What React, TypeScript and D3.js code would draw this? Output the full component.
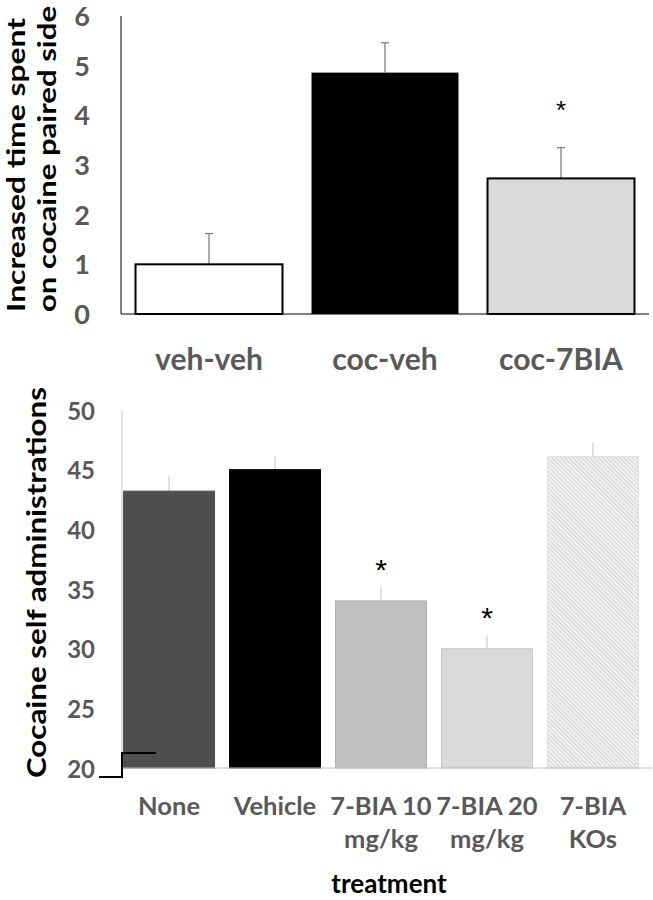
import React from "react";
import * as d3 from "d3";

const topCategories = ["veh-veh", "coc-veh", "coc-7BIA"];
const topValues = [1.0, 4.86, 2.73];
const topErrors = [0.62, 0.6, 0.62];
const topTicks = [0, 1, 2, 3, 4, 5, 6];
const topStars = [false, false, true];

const botCategories = [["None"], ["Vehicle"], ["7-BIA 10", "mg/kg"], ["7-BIA 20", "mg/kg"], ["7-BIA", "KOs"]];
const botValues = [43.2, 45.0, 34.0, 30.0, 46.1];
const botErrors = [1.2, 1.1, 1.15, 1.1, 1.15];
const botTicks = [20, 25, 30, 35, 40, 45, 50];
const botStars = [false, false, true, true, false];

const FONT = "Lato, 'Open Sans', sans-serif";
const GRAY = "#595959";

export default function App() {
  // top chart
  const tx = d3.scaleBand().domain(topCategories).range([121, 649]).paddingInner(0.165).paddingOuter(0.0825);
  const ty = d3.scaleLinear().domain([0, 6]).range([314, 16]);
  const topFill = ["#ffffff", "#000000", "#d9d9d9"];

  // bottom chart
  const bx = d3.scaleBand().domain(botCategories.map((c) => c.join(" "))).range([122, 640]).paddingInner(0.132).paddingOuter(0.01);
  const by = d3.scaleLinear().domain([20, 50]).range([768, 410]);
  const botFill = ["#4f4f4f", "#000000", "#bfbfbf", "#d9d9d9", "url(#hatch)"];
  const botStroke = ["#4f4f4f", "#000000", "#b0b0b0", "#c8c8c8", "#e0e0e0"];

  return (
    <svg width={653} height={900} style={{ position: "absolute", left: 0, top: 0 }} fontFamily={FONT}>
      <defs>
        <pattern id="hatch" patternUnits="userSpaceOnUse" width={3} height={3} patternTransform="rotate(-45)">
          <rect width={3} height={3} fill="#f2f2f2" />
          <line x1={0} y1={0} x2={0} y2={3} stroke="#bdbdbd" strokeWidth={1.2} />
        </pattern>
      </defs>
      <rect width={653} height={900} fill="#ffffff" />

      {/* ===== Top chart ===== */}
      <text transform="translate(25,312) rotate(-90)" textAnchor="start" fontSize={25} fontWeight="bold" fill="#000" textLength={294} lengthAdjust="spacingAndGlyphs">
        Increased time spent
      </text>
      <text transform="translate(56,312) rotate(-90)" textAnchor="start" fontSize={25} fontWeight="bold" fill="#000" textLength={306} lengthAdjust="spacingAndGlyphs">
        on cocaine paired side
      </text>
      {topTicks.map((t) => (
        <text key={t} x={90} y={ty(t) + 10} textAnchor="end" fontSize={27} fontWeight="bold" fill={GRAY}>
          {t}
        </text>
      ))}
      {topCategories.map((c, i) => {
        const x0 = tx(c)!;
        const w = tx.bandwidth();
        const cx = x0 + w / 2;
        const errTop = ty(topValues[i] + topErrors[i]);
        return (
          <g key={c}>
            <line x1={cx} x2={cx} y1={ty(topValues[i])} y2={errTop} stroke="#7f7f7f" strokeWidth={1.3} />
            <line x1={cx - 4} x2={cx + 4} y1={errTop} y2={errTop} stroke="#7f7f7f" strokeWidth={1.3} />
            <rect x={x0} y={ty(topValues[i])} width={w} height={ty(0) - ty(topValues[i])} fill={topFill[i]} stroke="#000" strokeWidth={i === 1 ? 0 : 2} />
            {topStars[i] && (
              <text x={cx} y={errTop - 38} textAnchor="middle" dominantBaseline="central" fontSize={26} fill="#000" fontFamily="'Liberation Sans', sans-serif">
                *
              </text>
            )}
            <text x={cx} y={370} textAnchor="middle" fontSize={30} fontWeight="bold" fill={GRAY}>
              {c}
            </text>
          </g>
        );
      })}
      <line x1={121} x2={121} y1={ty(6)} y2={ty(0)} stroke="#000" strokeWidth={1} />
      <line x1={121} x2={649} y1={ty(0)} y2={ty(0)} stroke="#000" strokeWidth={1} />

      {/* ===== Bottom chart ===== */}
      <text transform="translate(46,778) rotate(-90)" textAnchor="start" fontSize={27} fontWeight="bold" fill="#000" textLength={391} lengthAdjust="spacingAndGlyphs">
        Cocaine self administrations
      </text>
      {botTicks.map((t) => (
        <text key={t} x={95} y={by(t)} textAnchor="end" dominantBaseline="central" fontSize={24} fontWeight="bold" fill={GRAY}>
          {t}
        </text>
      ))}
      <line x1={122} x2={122} y1={by(50)} y2={by(20)} stroke="#c8c8c8" strokeWidth={1} />
      {botCategories.map((c, i) => {
        const key = c.join(" ");
        const x0 = bx(key)!;
        const w = bx.bandwidth();
        const cx = x0 + w / 2;
        const errTop = by(botValues[i] + botErrors[i]);
        return (
          <g key={key}>
            <line x1={cx} x2={cx} y1={by(botValues[i])} y2={errTop} stroke="#c0c0c0" strokeWidth={1} />
            <rect x={x0 + 0.5} y={by(botValues[i])} width={w - 1} height={by(20) - by(botValues[i])} fill={botFill[i]} stroke={botStroke[i]} strokeWidth={1} />
            {botStars[i] && (
              <text x={cx} y={errTop - 18} textAnchor="middle" dominantBaseline="central" fontSize={30} fill="#000" fontFamily="'Liberation Sans', sans-serif">
                *
              </text>
            )}
            {c.map((line, j) => (
              <text key={j} x={cx} y={815 + j * 33} textAnchor="middle" fontSize={25.5} fontWeight="bold" fill={GRAY}>
                {line}
              </text>
            ))}
          </g>
        );
      })}
      <line x1={122} x2={652} y1={by(20)} y2={by(20)} stroke="#bfbfbf" strokeWidth={1.2} />
      <path d={`M99,777 H122 V753 H156`} fill="none" stroke="#000" strokeWidth={2} />
      <text x={389} y={893} textAnchor="middle" fontSize={26} fontWeight="bold" fill="#000">
        treatment
      </text>
    </svg>
  );
}
